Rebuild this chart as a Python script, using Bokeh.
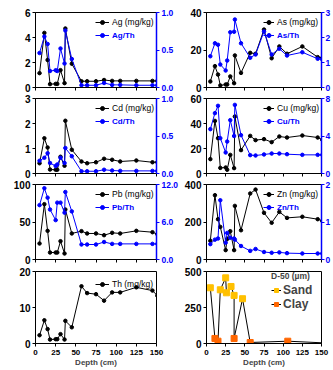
from bokeh.plotting import figure
from bokeh.layouts import gridplot
from bokeh.models import (Range1d, LinearAxis, FixedTicker, NumeralTickFormatter,
                          Legend, LegendItem)
from bokeh.embed import file_html
from bokeh.resources import INLINE

FONT = "Liberation Sans"
BLUE = "#0000FF"

# ---------------- data ----------------
depth = [5, 11, 15, 18, 25, 27, 31, 36, 37, 45, 57, 64, 75, 85, 95, 105, 125, 145, 151]

ag    = [1.15, 4.37, 2.2, 0.27, 0.29, 0.29, 1.39, 0.35, 4.72, 1.9, 0.5, 0.5, 0.5, 0.6, 0.53, 0.53, 0.53, 0.53, 0.53]
ag_th = [0.46, 0.68, 0.58, 0.22, 0.23, 0.22, 0.52, 0.32, 0.76, 0.38, 0.03, 0.03, 0.03, 0.06, 0.035, 0.035, 0.03, 0.03, 0.03]
as_   = [3.2, 11.4, 6.9, 1.1, 1.6, 1.6, 5.9, 2.3, 17.1, 7.8, 18.5, 18.0, 30.9, 15.6, 21.9, 18.0, 21.9, 16.2, 15.8]
as_th = [1.25, 1.77, 1.71, 0.92, 0.68, 1.08, 2.21, 2.23, 2.72, 1.77, 1.19, 1.32, 2.24, 1.32, 1.55, 1.28, 1.41, 1.15, 1.12]
cd    = [0.41, 1.41, 1.04, 0.16, 0.15, 0.15, 0.67, 0.31, 2.11, 0.95, 0.48, 0.41, 0.45, 0.59, 0.55, 0.48, 0.52, 0.45, 0.45]
cd_th = [0.17, 0.21, 0.27, 0.14, 0.10, 0.12, 0.21, 0.14, 0.34, 0.23, 0.03, 0.03, 0.03, 0.05, 0.04, 0.035, 0.035, 0.035, 0.035]
cu    = [11.5, 42.1, 28.3, 4.5, 4.8, 3.0, 14.9, 4.3, 45.6, 18.7, 30.1, 26.7, 27.5, 25.1, 29.6, 28.8, 30.4, 28.8, 27.0]
cu_th = [4.73, 6.44, 7.22, 3.77, 2.24, 3.41, 5.69, 4.0, 7.32, 4.09, 1.96, 1.92, 2.03, 2.13, 2.13, 2.06, 1.99, 1.99, 1.99]
pb    = [21.3, 73.8, 38.2, 9.3, 9.3, 9.3, 24.4, 8.0, 66.7, 34.7, 37.8, 34.7, 34.7, 32.4, 35.6, 34.7, 38.2, 36.4, 33.8]
pb_th = [8.7, 11.4, 9.9, 8.0, 6.3, 9.1, 9.1, 7.5, 10.8, 7.7, 2.4, 2.4, 2.4, 2.8, 2.5, 2.5, 2.5, 2.5, 2.5]
zn    = [100, 343, 215, 174, 50, 110, 151, 50, 286, 156, 352, 373, 249, 196, 254, 222, 228, 215, 206]
zn_th = [0.41, 0.53, 0.56, 1.58, 0.45, 0.71, 0.58, 0.56, 0.53, 0.36, 0.23, 0.28, 0.20, 0.18, 0.19, 0.17, 0.16, 0.16, 0.16]
th    = [2.3, 6.45, 4.0, 1.1, 1.2, 1.2, 2.6, 1.1, 6.3, 4.5, 15.9, 14.0, 13.7, 11.9, 14.2, 14.2, 15.6, 14.7, 13.3]

d50_depth = [5, 11, 15, 18, 25, 26, 32, 36, 36, 47, 57, 106, 150]
d50_um    = [387, 35, 16, 373, 456, 352, 396, 334, 35, 311, 7, 16, 5]
d50_class = ["Sand", "Clay", "Clay", "Sand", "Sand", "Sand", "Sand", "Sand", "Clay", "Sand", "Clay", "Clay", ""]

x_ticks = [0, 25, 50, 75, 100, 125, 150]

metal_names = ["Ag (mg/kg)", "As (mg/kg)", "Cd (mg/kg)", "Cu (mg/kg)", "Pb (mg/kg)", "Zn (mg/kg)"]
ratio_names = ["Ag/Th", "As/Th", "Cd/Th", "Cu/Th", "Pb/Th", "Zn/Th"]
metal_vals = [ag, as_, cd, cu, pb, zn]
ratio_vals = [ag_th, as_th, cd_th, cu_th, pb_th, zn_th]
metal_ticks = [[0, 2, 4, 6], [0, 20, 40], [0, 1, 2, 3], [0, 20, 40, 60], [0, 50, 100], [0, 200, 400]]
ratio_ticks = [[0, 0.5, 1.0], [0, 1, 2, 3], [0, 0.5, 1.0], [0, 4, 8], [0, 6, 12], [0, 1, 2]]
ratio_fmt = ["0.0", "0", "0.0", "0", "0.0", "0"]

# ---------------- layout ----------------
COL_W = [181, 152]
COL_BL = [35, 24]
COL_BR = [23, 10]
ROW_H = [92, 86, 87, 104]
ROW_BT = [12, 6, 6, 6]
ROW_BB = [5, 5, 6, 26]
LEG_X = [60, 57]
GLYPH_W = [14, 11]


def style_axis(ax, color="black", size="10px"):
    ax.axis_line_color = color
    ax.major_tick_line_color = color
    ax.major_tick_out = 3
    ax.major_tick_in = 0
    ax.minor_tick_line_color = None
    ax.major_label_text_color = color
    ax.major_label_text_font = FONT
    ax.major_label_text_font_style = "bold"
    ax.major_label_text_font_size = size
    ax.major_label_standoff = 2


def make_fig(r, c, ymax, yticks):
    p = figure(width=COL_W[c], height=ROW_H[r], title=None,
               x_range=Range1d(0, 150), y_range=Range1d(0, ymax),
               output_backend="svg", toolbar_location=None,
               min_border_left=COL_BL[c], min_border_right=COL_BR[c],
               min_border_top=ROW_BT[r], min_border_bottom=ROW_BB[r])
    p.xgrid.visible = False
    p.ygrid.visible = False
    p.outline_line_color = "black"
    p.outline_line_width = 1
    p.background_fill_color = "white"
    p.border_fill_color = "white"
    yax = p.yaxis[0]
    yax.ticker = FixedTicker(ticks=yticks)
    style_axis(yax)
    xax = p.xaxis[0]
    style_axis(xax, size="8px")
    if r < 3:
        xax.ticker = FixedTicker(ticks=[], minor_ticks=x_ticks)
        xax.minor_tick_line_color = "black"
        xax.minor_tick_out = 3
        xax.minor_tick_in = 0
        xax.major_label_standoff = 0
    else:
        xax.ticker = FixedTicker(ticks=x_ticks)
        xax.major_label_standoff = 3
        xax.axis_label = "Depth (cm)"
        xax.axis_label_text_font = FONT
        xax.axis_label_text_font_style = "bold"
        xax.axis_label_text_font_size = "8px"
        xax.axis_label_standoff = 0
    return p


def add_legend(p, label, rends, vx, vy, color, style, size, gw):
    leg = Legend(items=[LegendItem(label=label, renderers=rends)], location=(vx, vy),
                 orientation="vertical", padding=2, margin=0, spacing=0,
                 glyph_width=gw, glyph_height=10, label_height=10, label_standoff=3,
                 label_text_font=FONT, label_text_font_size=size,
                 label_text_font_style=style, label_text_color=color,
                 border_line_color=None, background_fill_alpha=0)
    p.add_layout(leg)


figs = []
for i in range(6):
    r, c = divmod(i, 2)
    mt = metal_ticks[i]
    rt = ratio_ticks[i]
    p = make_fig(r, c, mt[-1], mt)
    p.extra_y_ranges = {"r": Range1d(0, rt[-1])}
    l1 = p.line(depth, metal_vals[i], line_color="black", line_width=1)
    s1 = p.scatter(depth, metal_vals[i], marker="circle", size=3.5, color="black")
    l2 = p.line(depth, ratio_vals[i], line_color=BLUE, line_width=1, y_range_name="r")
    s2 = p.scatter(depth, ratio_vals[i], marker="circle", size=3.5, color=BLUE, y_range_name="r")
    rax = LinearAxis(y_range_name="r", ticker=FixedTicker(ticks=rt))
    rax.formatter = NumeralTickFormatter(format=ratio_fmt[i])
    style_axis(rax, BLUE, "8.5px")
    if c == 1:
        rax.major_label_standoff = 1
    rax.axis_line_width = 1.5
    p.add_layout(rax, "right")
    add_legend(p, metal_names[i], [l1, s1], LEG_X[c], 60, "black", "normal", "8.5px", GLYPH_W[c])
    add_legend(p, ratio_names[i], [l2, s2], LEG_X[c], 47, BLUE, "bold", "8px", GLYPH_W[c])
    figs.append(p)

# Th panel
pth = make_fig(3, 0, 20, [0, 10, 20])
lt = pth.line(depth, th, line_color="black", line_width=1)
st = pth.scatter(depth, th, marker="circle", size=3.5, color="black")
add_legend(pth, "Th (mg/kg)", [lt, st], LEG_X[0], 54, "black", "normal", "8.5px", GLYPH_W[0])

# D-50 panel
pd50 = make_fig(3, 1, 500, [0, 250, 500])
ld = pd50.line(d50_depth, d50_um, line_color="black", line_width=1)
sand_x = [d for d, k in zip(d50_depth, d50_class) if k == "Sand"]
sand_y = [v for v, k in zip(d50_um, d50_class) if k == "Sand"]
clay_x = [d for d, k in zip(d50_depth, d50_class) if k == "Clay"]
clay_y = [v for v, k in zip(d50_um, d50_class) if k == "Clay"]
ss = pd50.scatter(sand_x, sand_y, marker="square", size=6, fill_color="#FFC000", line_color="#FFC000")
sc = pd50.scatter(clay_x, clay_y, marker="square", size=6, fill_color="#FF6600", line_color="#FF6600")
leg = Legend(items=[LegendItem(label="Sand", renderers=[ld, ss]),
                    LegendItem(label="Clay", renderers=[ld, sc])],
             location=(65, 32), orientation="vertical", padding=1, margin=0, spacing=0,
             glyph_width=10, glyph_height=12, label_height=12, label_standoff=2,
             label_text_font=FONT, label_text_font_size="12px", label_text_font_style="bold",
             title="D-50 (µm)", title_text_font=FONT, title_text_font_size="8.5px",
             title_text_font_style="bold", title_standoff=2,
             border_line_color=None, background_fill_alpha=0)
pd50.add_layout(leg)

figs += [pth, pd50]

grid = gridplot([[figs[0], figs[1]], [figs[2], figs[3]], [figs[4], figs[5]], [figs[6], figs[7]]],
                toolbar_location=None)

open("out.html", "w").write(file_html(grid, INLINE))
